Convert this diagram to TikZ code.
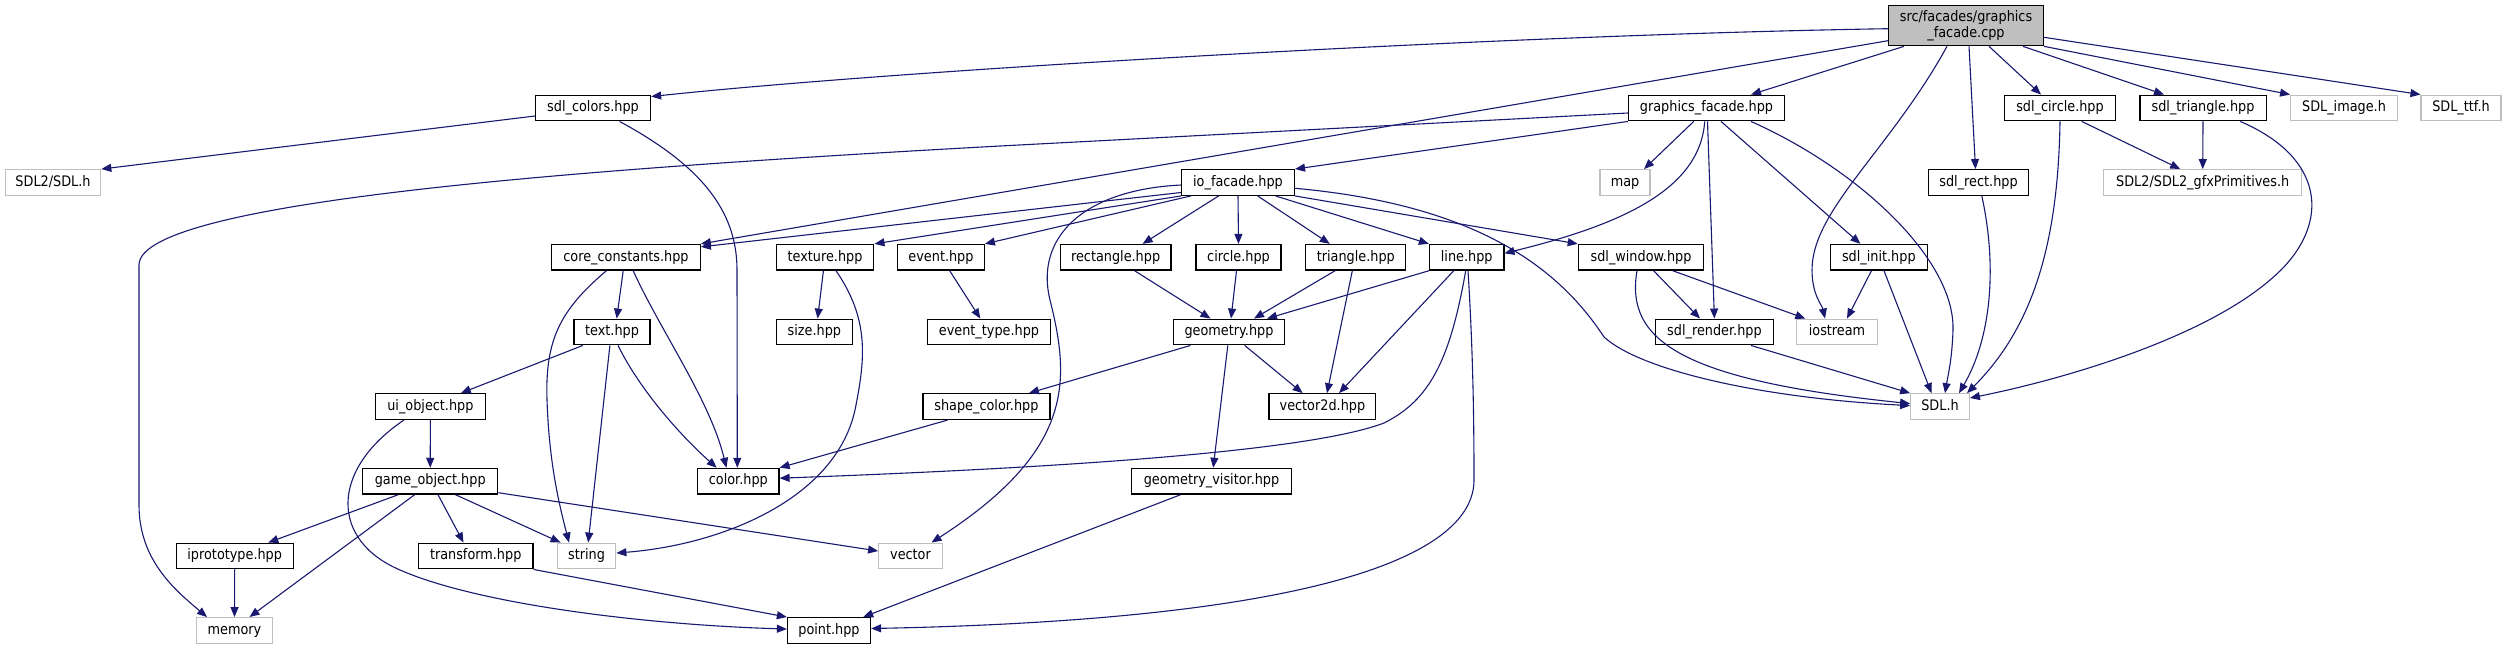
\documentclass[tikz,border=0pt]{standalone}
\usepackage{fontspec}
\newfontfamily\dfont[FakeStretch=0.885]{DejaVu Sans}
\usetikzlibrary{arrows.meta}
\definecolor{edgecol}{HTML}{191970}
\definecolor{ghost}{HTML}{BFBFBF}
\begin{document}
\begin{tikzpicture}[x=1pt,y=-1pt,
  nd/.style={draw=black, line width=1.3pt, rectangle, inner sep=0pt, minimum height=25.6pt,
    text height=11pt, text depth=3.5pt, fill=white, font=\dfont\fontsize{14.5}{16}\selectfont},
  ext/.style={nd, draw=ghost},
  rootnode/.style={draw=black, line width=1.3pt, rectangle, fill=ghost, inner sep=0pt,
    align=center, font=\dfont\fontsize{14.5}{15.4}\selectfont},
  e/.style={draw=edgecol, line width=1.1pt, -{Triangle[length=10pt,width=8pt]}}]
\useasboundingbox[fill=white] (0,0) rectangle (2507,649);

% row 0
\node[rootnode, minimum width=154.7pt, minimum height=40pt] (src) at (1966,25.7) {src/facades/graphics\\\_facade.cpp};
% row 1
\node[nd, minimum width=115pt] (sdlcolors) at (593,108) {sdl\_colors.hpp};
\node[nd, minimum width=156pt] (gf) at (1706.5,108) {graphics\_facade.hpp};
\node[nd, minimum width=110.4pt] (sdlcircle) at (2060,108) {sdl\_circle.hpp};
\node[nd, minimum width=126.3pt] (sdltriangle) at (2203,108) {sdl\_triangle.hpp};
\node[ext, minimum width=106.6pt] (sdlimage) at (2344,108) {SDL\_image.h};
\node[ext, minimum width=79.8pt] (sdlttf) at (2461,108) {SDL\_ttf.h};
% row 2
\node[ext, minimum width=95.4pt] (sdl2sdl) at (53,182.5) {SDL2/SDL.h};
\node[nd, minimum width=112.7pt] (io) at (1238,182.5) {io\_facade.hpp};
\node[ext, minimum width=50pt] (map) at (1625,182.5) {map};
\node[nd, minimum width=100.6pt] (sdlrect) at (1978.5,182.5) {sdl\_rect.hpp};
\node[ext, minimum width=198pt] (gfx) at (2202.7,182.5) {SDL2/SDL2\_gfxPrimitives.h};
% row 3
\node[nd, minimum width=148.4pt] (core) at (626,257.3) {core\_constants.hpp};
\node[nd, minimum width=97.6pt] (texture) at (825,257.3) {texture.hpp};
\node[nd, minimum width=86.5pt] (event) at (941,257.3) {event.hpp};
\node[nd, minimum width=110.6pt] (rect) at (1115.6,257.3) {rectangle.hpp};
\node[nd, minimum width=85pt] (circle) at (1238.5,257.3) {circle.hpp};
\node[nd, minimum width=100pt] (triangle) at (1355.8,257.3) {triangle.hpp};
\node[nd, minimum width=74.3pt] (line) at (1466.7,257.3) {line.hpp};
\node[nd, minimum width=125.3pt] (window) at (1641,257.3) {sdl\_window.hpp};
\node[nd, minimum width=96.7pt] (init) at (1878.8,257.3) {sdl\_init.hpp};
% row 4
\node[nd, minimum width=76pt] (text) at (612,332) {text.hpp};
\node[nd, minimum width=76pt] (size) at (814.4,332) {size.hpp};
\node[nd, minimum width=123pt] (etype) at (989,332) {event\_type.hpp};
\node[nd, minimum width=111pt] (geometry) at (1229,332) {geometry.hpp};
\node[nd, minimum width=117.6pt] (render) at (1714.4,332) {sdl\_render.hpp};
\node[ext, minimum width=80.8pt] (iostream) at (1837,332) {iostream};
% row 5
\node[nd, minimum width=109.5pt] (ui) at (430.4,406.6) {ui\_object.hpp};
\node[nd, minimum width=127pt] (shapecolor) at (986.4,406.6) {shape\_color.hpp};
\node[nd, minimum width=106.7pt] (vec2d) at (1322.4,406.6) {vector2d.hpp};
\node[ext, minimum width=58.5pt] (sdlh) at (1940,406.6) {SDL.h};
% row 6
\node[nd, minimum width=135pt] (game) at (430.2,481.2) {game\_object.hpp};
\node[nd, minimum width=81.3pt] (color) at (738.3,481.2) {color.hpp};
\node[nd, minimum width=160.5pt] (gvisitor) at (1211.5,481.2) {geometry\_visitor.hpp};
% row 7
\node[nd, minimum width=117pt] (iproto) at (234.7,556) {iprototype.hpp};
\node[nd, minimum width=114.4pt] (transform) at (475.7,556) {transform.hpp};
\node[ext, minimum width=58.5pt] (string) at (586.5,556) {string};
\node[ext, minimum width=63.5pt] (vector) at (910.5,556) {vector};
% row 8
\node[ext, minimum width=76.4pt] (memory) at (234.5,630.5) {memory};
\node[nd, minimum width=83pt] (point) at (829,630.5) {point.hpp};

% edges from src
\draw[e] ([yshift=-3pt]src.west) .. controls (1500,35) and (900,70) .. ([yshift=-2pt]sdlcolors.north east);
\draw[e] ([yshift=-15pt]src.west) -- (core.north east);
\draw[e] ([xshift=-62pt]src.south) -- ([xshift=44.5pt]gf.north);
\draw[e] ([xshift=-19pt]src.south) .. controls (1890,150) and (1812,210) .. (1812,270) .. controls (1812,295) and (1822,305) .. ([xshift=-12pt]iostream.north);
\draw[e] ([xshift=3pt]src.south) -- ([xshift=-3pt]sdlrect.north);
\draw[e] ([xshift=23pt]src.south) -- ([xshift=-19pt]sdlcircle.north);
\draw[e] ([xshift=57pt]src.south) -- ([xshift=-39pt]sdltriangle.north);
\draw[e] (src.south east) -- (sdlimage.north west);
\draw[e] ([yshift=-11.6pt]src.east) -- (sdlttf.north west);
% edges from graphics_facade.hpp
\draw[e] ([yshift=-5pt]gf.west) -- (1000,146) .. controls (600,168) and (139,200) .. (139,265) -- (139,505) .. controls (139,560) and (175,590) .. ([xshift=-27.5pt]memory.north);
\draw[e] (gf.south west) -- (io.north east);
\draw[e] ([xshift=-12.8pt]gf.south) -- ([xshift=19pt]map.north);
\draw[e] ([xshift=-1.8pt]gf.south) .. controls (1700,190) and (1620,225) .. ([yshift=4pt]line.east);
\draw[e] ([xshift=1pt]gf.south) -- (render.north);
\draw[e] ([xshift=14.5pt]gf.south) -- ([xshift=-18.4pt]init.north);
\draw[e] ([xshift=44.5pt]gf.south) .. controls (1860,170) and (1955,260) .. (1953,330) .. controls (1952,360) and (1948,375) .. ([xshift=5pt]sdlh.north);
% sdl_colors
\draw[e] ([yshift=-8pt]sdlcolors.west) -- (sdl2sdl.north east);
\draw[e] ([xshift=26.6pt]sdlcolors.south) .. controls (700,165) and (737,210) .. (737,270) -- ([xshift=-1pt]color.north);
% sdl_circle, sdl_triangle, sdl_rect
\draw[e] ([xshift=21.8pt]sdlcircle.south) -- ([xshift=-22.5pt]gfx.north);
\draw[e] (sdlcircle.south) .. controls (2058,250) and (2030,330) .. ([xshift=27pt]sdlh.north);
\draw[e] (sdltriangle.south) -- (gfx.north);
\draw[e] ([xshift=37.3pt]sdltriangle.south) .. controls (2330,160) and (2330,230) .. (2270,280) .. controls (2200,340) and (2060,380) .. ([yshift=8.6pt]sdlh.east);
\draw[e] ([xshift=3.3pt]sdlrect.south) .. controls (1998,270) and (1990,340) .. ([xshift=19pt]sdlh.north);
% sdl_init, sdl_window
\draw[e] ([xshift=-7.4pt]init.south) -- ([xshift=10pt]iostream.north);
\draw[e] ([xshift=5.2pt]init.south) -- ([xshift=-8.5pt]sdlh.north);
\draw[e] ([xshift=12.6pt]window.south) -- ([xshift=-14.4pt]render.north);
\draw[e] ([xshift=31.8pt]window.south) -- ([xshift=-31.7pt]iostream.north);
\draw[e] ([xshift=-4pt]window.south) .. controls (1625,340) and (1680,380) .. ([yshift=3pt]sdlh.west);
% io_facade
\draw[e] ([yshift=-10pt]io.west) -- ([yshift=-3pt]core.north east);
\draw[e] (io.south west) -- (texture.north east);
\draw[e] ([xshift=9.8pt]io.south west) -- (event.north east);
\draw[e] ([xshift=-19.4pt]io.south) -- ([xshift=27pt]rect.north);
\draw[e] (io.south) -- (circle.north);
\draw[e] ([xshift=19.7pt]io.south) -- ([xshift=-26pt]triangle.north);
\draw[e] ([xshift=37.6pt]io.south) -- (line.north west);
\draw[e] (io.south east) -- (window.north west);
\draw[e] ([yshift=-5.8pt]io.east) .. controls (1480,205) and (1560,270) .. (1604,337) .. controls (1640,370) and (1760,398) .. ([yshift=1pt]sdlh.west);
\draw[e] ([yshift=-2.5pt]io.west) .. controls (1080,190) and (1035,240) .. (1050,300) .. controls (1070,380) and (1075,450) .. ([xshift=21pt]vector.north);
% core_constants
\draw[e] ([xshift=-2.8pt]core.south) -- ([xshift=4.7pt]text.north);
\draw[e] ([xshift=-19.6pt]core.south) .. controls (560,310) and (545,340) .. (547,400) .. controls (549,460) and (558,500) .. ([xshift=-17.5pt]string.north);
\draw[e] ([xshift=7.2pt]core.south) .. controls (660,330) and (710,400) .. ([xshift=-11.9pt]color.north);
% text
\draw[e] ([xshift=-29.2pt]text.south) -- ([xshift=30.4pt]ui.north);
\draw[e] ([xshift=-2.1pt]text.south) -- ([xshift=1.7pt]string.north);
\draw[e] ([xshift=6pt]text.south) .. controls (640,390) and (680,435) .. ([xshift=-21.6pt]color.north);
% texture, event
\draw[e] ([xshift=-1.6pt]texture.south) -- ([xshift=3.2pt]size.north);
\draw[e] ([xshift=11pt]texture.south) .. controls (870,320) and (865,360) .. (855,410) .. controls (835,500) and (720,545) .. ([yshift=3pt]string.east);
\draw[e] ([xshift=8.7pt]event.south) -- ([xshift=-8.7pt]etype.north);
% shapes
\draw[e] ([xshift=19pt]rect.south) -- ([xshift=-18.5pt]geometry.north);
\draw[e] ([xshift=-2pt]circle.south) -- ([xshift=2pt]geometry.north);
\draw[e] ([xshift=-20.8pt]triangle.south) -- ([xshift=25pt]geometry.north);
\draw[e] ([xshift=-3.5pt]triangle.south) -- ([xshift=4.6pt]vec2d.north);
\draw[e] (line.south west) -- ([xshift=38pt]geometry.north);
\draw[e] ([xshift=-13pt]line.south) -- ([xshift=16.6pt]vec2d.north);
\draw[e] ([xshift=-1pt]line.south) .. controls (1450,360) and (1430,400) .. (1384,423) .. controls (1300,455) and (1000,470) .. ([yshift=3pt]color.east);
\draw[e] ([xshift=1.3pt]line.south) .. controls (1473,350) and (1474,420) .. (1474,480) .. controls (1474,560) and (1300,620) .. ([yshift=2pt]point.east);
% geometry
\draw[e] ([xshift=-38.6pt]geometry.south) -- ([xshift=42.5pt]shapecolor.north);
\draw[e] ([xshift=15.7pt]geometry.south) -- ([xshift=-19.8pt]vec2d.north);
\draw[e] ([xshift=-1.2pt]geometry.south) -- ([xshift=1.7pt]gvisitor.north);
\draw[e] ([xshift=-38.8pt]shapecolor.south) -- (color.north east);
\draw[e] ([xshift=-30.8pt]gvisitor.south) -- ([xshift=-8pt]point.north east);
% ui_object, game_object
\draw[e] (ui.south) -- (game.north);
\draw[e] ([xshift=-26.5pt]ui.south) .. controls (330,470) and (330,540) .. (400,570) .. controls (480,605) and (650,625) .. ([yshift=1.5pt]point.west);
\draw[e] ([xshift=-31.8pt]game.south) -- ([xshift=33.6pt]iproto.north);
\draw[e] ([xshift=-15.5pt]game.south) -- ([xshift=15pt]memory.north);
\draw[e] ([xshift=7.8pt]game.south) -- ([xshift=-12.2pt]transform.north);
\draw[e] ([xshift=25.2pt]game.south) -- ([xshift=4pt]string.north west);
\draw[e] ([yshift=-11.5pt]game.east) -- ([yshift=5pt]vector.west);
\draw[e] (iproto.south) -- (memory.north);
\draw[e] (transform.south east) -- (point.north west);
\draw[e] ([xshift=36.6pt]render.south) -- (sdlh.north west);
\end{tikzpicture}
\end{document}
